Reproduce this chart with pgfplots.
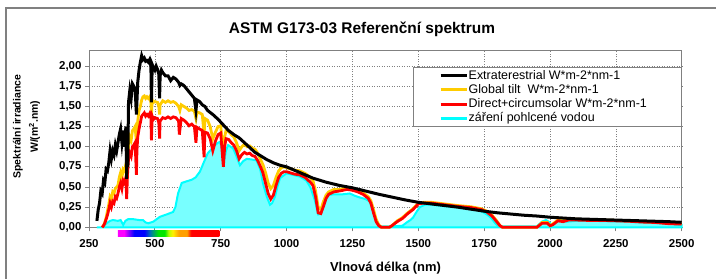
\documentclass[border=0pt]{standalone}
\usepackage{pgfplots}
\pgfplotsset{compat=1.18}
\usepackage{fontspec}
\setmainfont{Liberation Sans}
\definecolor{gold}{RGB}{255,204,0}
\definecolor{cyanline}{RGB}{0,255,255}
\definecolor{cyanfill}{RGB}{120,255,255}
\definecolor{framegray}{RGB}{128,128,128}
\definecolor{vm}{RGB}{255,0,255}
\definecolor{vviolet}{RGB}{150,0,255}
\definecolor{vblue}{RGB}{0,0,255}
\definecolor{vteal}{RGB}{0,120,170}
\definecolor{vgreen}{RGB}{0,230,0}
\definecolor{vyg}{RGB}{180,255,0}
\definecolor{vyellow}{RGB}{255,240,0}
\definecolor{vorange}{RGB}{255,160,0}
\definecolor{vred}{RGB}{255,0,0}
\pgfdeclarehorizontalshading{vis}{100bp}{color(0bp)=(vm); color(28bp)=(vm); color(30bp)=(vviolet); color(33bp)=(vblue); color(38bp)=(vblue); color(41bp)=(vteal); color(45bp)=(vgreen); color(48bp)=(vgreen); color(50bp)=(vyg); color(52bp)=(vyellow); color(55bp)=(vorange); color(59bp)=(vorange); color(61bp)=(vred); color(100bp)=(vred)}
\begin{document}
\begin{tikzpicture}
\useasboundingbox (0bp,0bp) rectangle (716bp,-279bp);
\fill[white] (0bp,0bp) rectangle (716bp,-279bp);
\draw[framegray, line width=1.6bp] (6bp,-8bp) rectangle (740bp,-300bp);
\node[font=\bfseries\fontsize{15.5}{17}\selectfont, anchor=center] at (362bp,-29bp) {ASTM G173-03 Referenční spektrum};
\begin{axis}[
  at={(89bp,-227.3bp)}, anchor=south west,
  width=592.7bp, height=177.3bp, scale only axis,
  xmin=250, xmax=2500, ymin=0, ymax=2.2,
  xtick={250,500,...,2500},
  ytick={0,0.25,...,2.0},
  grid=major,
  grid style={framegray, dash pattern=on 1bp off 1.5bp, line width=0.6bp},
  axis line style={framegray, line width=0.9bp},
  tick style={framegray, line width=0.8bp},
  tick align=outside, tick pos=left, major tick length=4bp,
  /pgf/number format/assume math mode=true,
  /pgf/number format/set thousands separator={},
  ticklabel style={font=\bfseries\fontsize{11.5}{12}\selectfont},
  xticklabel style={yshift=-5bp},
  yticklabel style={/pgf/number format/fixed, /pgf/number format/fixed zerofill, /pgf/number format/precision=2, /pgf/number format/use comma},
  clip=false,
  legend style={at={(1,0.904)}, anchor=north east, draw=framegray, line width=0.8bp, fill=white,
    font=\fontsize{12.5}{13}\selectfont, inner xsep=0bp, inner ysep=2bp, row sep=1.5bp,
    nodes={inner sep=0.6bp, anchor=west, text height=9bp, text depth=2.5bp}},
  legend cell align=left,
  legend image code/.code={\path (0bp,0bp) (52bp,0bp); \draw[#1, line width=3bp] (27bp,0bp) -- (53bp,0bp);},
]
% water-absorbed radiation (area)
\addplot[draw=cyanline, line width=2bp, fill=cyanfill, forget plot] coordinates {
(280,0) (300,0) (310,0.03) (317,0.05) (330,0.08) (341,0.09) (360,0.08) (370,0.09) (380,0.03) (388,0.08) (398,0.10) (420,0.10) (440,0.09) (455,0.09) (465,0.06) (475,0.05) (494,0.07) (519,0.13) (545,0.16) (569,0.19) (578,0.25) (588,0.42) (602,0.55) (620,0.57) (640,0.59) (655,0.62) (671,0.69) (685,0.80) (701,0.92) (715,0.97) (728,1.02) (740,1.05) (747,1.06) (755,0.98) (762,0.81) (770,0.95) (778,1.02) (797,0.98) (810,0.88) (823,0.77) (835,0.82) (849,0.85) (870,0.84) (886,0.83) (900,0.72) (910,0.55) (925,0.38) (937,0.28) (945,0.30) (956,0.38) (965,0.50) (975,0.61) (1000,0.67) (1050,0.63) (1075,0.58) (1090,0.50) (1107,0.34) (1120,0.16) (1130,0.17) (1140,0.26) (1157,0.40) (1180,0.41) (1214,0.41) (1240,0.42) (1260,0.39) (1278,0.37) (1300,0.35) (1316,0.32) (1327,0.22) (1335,0.14) (1347,0.03) (1355,0.01) (1400,0.01) (1440,0.02) (1456,0.06) (1470,0.09) (1480,0.12) (1495,0.20) (1506,0.25) (1525,0.28) (1550,0.28) (1608,0.26) (1650,0.25) (1684,0.24) (1720,0.22) (1745,0.19) (1765,0.15) (1778,0.11) (1790,0.06) (1798,0.03) (1810,0.01) (1950,0.01) (1969,0.07) (1985,0.09) (1995,0.07) (2007,0.03) (2020,0.06) (2037,0.10) (2050,0.08) (2063,0.07) (2100,0.08) (2162,0.08) (2230,0.075) (2290,0.07) (2350,0.06) (2416,0.05) (2460,0.04) (2492,0.03) (2500,0.03)
} \closedcycle;
% global tilt
\addplot[gold, line width=2.8bp, forget plot] coordinates {
(300,0.0) (305,0.02) (310,0.06) (315,0.12) (320,0.20) (325,0.28) (330,0.38) (335,0.35) (340,0.44) (345,0.42) (350,0.48) (355,0.50) (360,0.52) (365,0.62) (370,0.68) (375,0.62) (380,0.72) (385,0.70) (390,0.78) (393,0.55) (396,0.80) (400,1.00) (405,1.12) (410,1.08) (415,1.20) (420,1.22) (425,1.25) (430,1.05) (435,1.32) (440,1.45) (445,1.50) (450,1.58) (455,1.62) (460,1.63) (465,1.60) (470,1.62) (475,1.60) (480,1.62) (485,1.55) (487,1.40) (490,1.58) (495,1.55) (500,1.56) (510,1.55) (515,1.50) (518,1.40) (520,1.52) (530,1.57) (540,1.55) (550,1.57) (560,1.55) (570,1.56) (580,1.54) (590,1.50) (595,1.45) (600,1.52) (610,1.50) (620,1.48) (630,1.45) (640,1.46) (650,1.44) (656,1.35) (660,1.43) (670,1.42) (680,1.40) (687,1.15) (690,1.35) (700,1.33) (710,1.25) (720,1.10) (730,1.18) (740,1.25) (750,1.26) (760,0.90) (765,1.12) (770,1.20) (780,1.19) (790,1.15) (800,1.12) (810,1.05) (820,0.95) (830,1.00) (840,1.03) (850,1.00) (860,1.01) (870,0.98) (880,0.97) (890,0.92) (900,0.85) (910,0.78) (920,0.68) (930,0.55) (940,0.48) (950,0.52) (960,0.62) (970,0.70) (980,0.74) (990,0.75) (1000,0.74) (1030,0.71) (1050,0.70) (1070,0.67) (1090,0.62) (1100,0.58) (1110,0.45) (1120,0.25) (1130,0.22) (1140,0.32) (1150,0.40) (1160,0.44) (1180,0.47) (1200,0.47) (1230,0.49) (1250,0.48) (1270,0.46) (1290,0.43) (1310,0.38) (1320,0.33) (1330,0.22) (1340,0.10) (1350,0.03) (1360,0.0) (1390,0.0) (1400,0.02) (1420,0.08) (1440,0.12) (1460,0.18) (1480,0.23) (1500,0.30) (1520,0.31) (1550,0.31) (1600,0.29) (1650,0.27) (1700,0.255) (1740,0.23) (1760,0.20) (1780,0.15) (1800,0.07) (1810,0.02) (1820,0.0) (1950,0.0) (1970,0.06) (1990,0.06) (2000,0.02) (2010,0.04) (2030,0.09) (2050,0.08) (2070,0.10) (2100,0.10) (2150,0.09) (2200,0.09) (2250,0.085) (2300,0.08) (2350,0.07) (2400,0.065) (2450,0.05) (2500,0.045)
};
% direct + circumsolar
\addplot[red, line width=2.8bp, forget plot] coordinates {
(300,0.0) (305,0.02) (310,0.05) (315,0.10) (320,0.15) (325,0.22) (330,0.30) (335,0.25) (340,0.32) (345,0.30) (350,0.38) (355,0.36) (360,0.42) (365,0.50) (370,0.55) (375,0.48) (380,0.58) (385,0.55) (390,0.62) (393,0.35) (396,0.65) (400,0.85) (405,0.92) (410,0.88) (415,1.00) (420,1.02) (425,1.05) (430,0.65) (432,0.95) (435,1.12) (440,1.22) (445,1.30) (450,1.38) (455,1.40) (460,1.42) (465,1.38) (470,1.40) (475,1.38) (480,1.41) (485,1.35) (487,1.08) (490,1.38) (495,1.34) (500,1.36) (510,1.35) (515,1.30) (518,1.10) (520,1.32) (530,1.36) (540,1.35) (550,1.37) (560,1.35) (570,1.37) (580,1.36) (590,1.32) (593,1.15) (600,1.35) (610,1.33) (620,1.30) (630,1.26) (640,1.28) (650,1.25) (656,1.05) (660,1.24) (670,1.22) (680,1.20) (687,0.87) (690,1.18) (700,1.17) (710,1.10) (720,0.95) (730,1.07) (740,1.15) (750,1.17) (760,0.75) (765,1.00) (770,1.10) (780,1.09) (790,1.05) (800,1.02) (810,0.95) (820,0.85) (830,0.90) (840,0.93) (850,0.91) (860,0.92) (870,0.89) (880,0.88) (890,0.83) (900,0.76) (910,0.68) (920,0.55) (930,0.42) (940,0.35) (950,0.40) (960,0.52) (970,0.62) (980,0.67) (990,0.69) (1000,0.69) (1030,0.66) (1050,0.65) (1070,0.62) (1090,0.56) (1100,0.52) (1110,0.38) (1120,0.18) (1130,0.17) (1140,0.26) (1150,0.36) (1160,0.41) (1180,0.44) (1200,0.45) (1230,0.47) (1250,0.46) (1270,0.44) (1290,0.41) (1310,0.36) (1320,0.30) (1330,0.18) (1340,0.07) (1350,0.02) (1360,0.0) (1390,0.0) (1400,0.02) (1420,0.07) (1440,0.11) (1460,0.17) (1480,0.22) (1500,0.29) (1520,0.30) (1550,0.30) (1600,0.28) (1650,0.26) (1700,0.245) (1740,0.22) (1760,0.19) (1780,0.14) (1800,0.06) (1810,0.02) (1820,0.0) (1950,0.0) (1970,0.05) (1990,0.05) (2000,0.02) (2010,0.03) (2030,0.08) (2050,0.07) (2070,0.09) (2100,0.09) (2150,0.085) (2200,0.085) (2250,0.08) (2300,0.075) (2350,0.065) (2400,0.06) (2450,0.045) (2500,0.04)
};
% extraterrestrial
\addplot[black, line width=3bp, forget plot] coordinates {
(280,0.08) (285,0.22) (290,0.30) (295,0.45) (300,0.42) (305,0.58) (310,0.55) (315,0.72) (320,0.70) (325,0.80) (330,0.95) (335,0.85) (340,0.95) (345,0.90) (350,1.02) (355,0.95) (360,1.05) (365,1.15) (370,1.22) (375,1.05) (380,1.20) (385,1.00) (390,1.25) (393,0.60) (396,1.20) (397,0.75) (400,1.55) (405,1.70) (410,1.60) (415,1.78) (420,1.75) (425,1.72) (430,1.40) (435,1.80) (440,1.95) (445,2.05) (450,2.13) (455,2.08) (460,2.10) (465,2.06) (470,2.07) (475,2.05) (480,2.08) (485,2.00) (487,1.55) (490,2.02) (495,1.98) (500,1.95) (505,2.00) (510,1.96) (515,1.90) (518,1.60) (520,1.88) (525,1.95) (530,1.92) (540,1.88) (550,1.88) (555,1.85) (560,1.82) (570,1.86) (580,1.84) (590,1.80) (595,1.76) (600,1.78) (610,1.76) (620,1.72) (630,1.68) (640,1.64) (650,1.60) (656,1.45) (660,1.58) (670,1.56) (680,1.52) (690,1.50) (700,1.45) (720,1.40) (740,1.34) (760,1.27) (780,1.20) (800,1.15) (820,1.11) (850,1.02) (880,0.93) (900,0.89) (925,0.84) (950,0.80) (975,0.77) (1000,0.75) (1050,0.68) (1100,0.61) (1150,0.56) (1200,0.52) (1250,0.49) (1300,0.45) (1350,0.41) (1400,0.375) (1450,0.34) (1500,0.31) (1550,0.29) (1600,0.27) (1650,0.25) (1700,0.225) (1750,0.20) (1800,0.18) (1850,0.165) (1900,0.15) (1950,0.14) (2000,0.125) (2050,0.115) (2100,0.105) (2150,0.10) (2200,0.095) (2250,0.09) (2300,0.085) (2350,0.08) (2400,0.075) (2450,0.07) (2500,0.062)
};
\addlegendimage{black}
\addlegendentry{\makebox[212bp][l]{Extraterestrial W*m-2*nm-1}}
\addlegendimage{gold}
\addlegendentry{\makebox[212bp][l]{Global tilt\ \ W*m-2*nm-1}}
\addlegendimage{red}
\addlegendentry{\makebox[212bp][l]{Direct+circumsolar W*m-2*nm-1}}
\addlegendimage{cyanline}
\addlegendentry{\makebox[212bp][l]{záření pohlcené vodou}}
\shade[shading=vis] (axis cs:360,-0.035) rectangle (axis cs:745,-0.12);
\end{axis}
\node[font=\bfseries\fontsize{13}{14}\selectfont] at (385.5bp,-268bp) {Vlnová délka (nm)};
\node[font=\bfseries\fontsize{10.5}{17.5}\selectfont, rotate=90, align=center] at (26.5bp,-126.7bp) {Spektrální irradiance\\W/(m\textsuperscript{2}.nm)};
\end{tikzpicture}
\end{document}
